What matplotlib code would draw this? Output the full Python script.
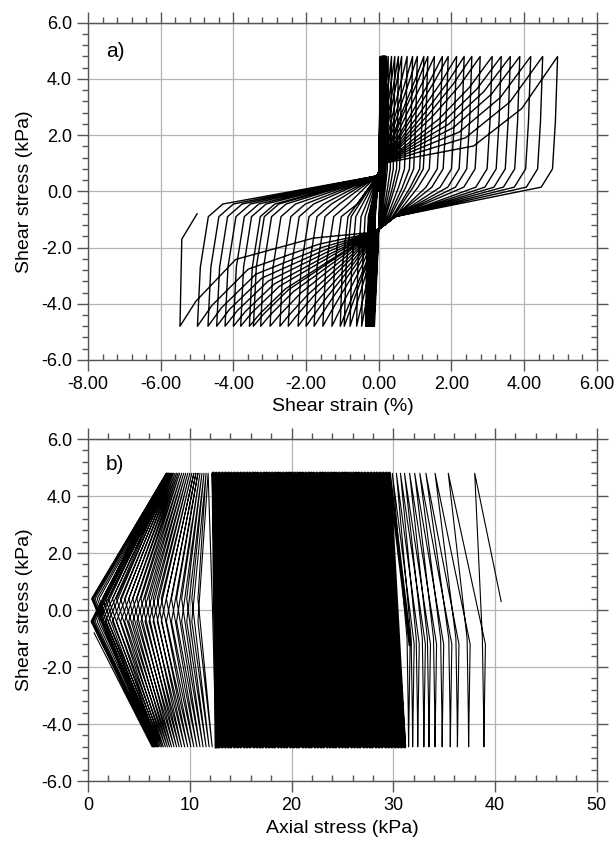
import matplotlib
matplotlib.use('Agg')
import matplotlib.pyplot as plt
from matplotlib.ticker import MultipleLocator, FormatStrFormatter

plt.rcParams['font.family'] = ['Liberation Sans', 'DejaVu Sans']

TAU = 4.8  # cyclic shear stress amplitude (kPa)

# --- panel a: shear strain (%) at the stress peaks ---
# small-strain cycles (the dense black band near zero)
band_pos = [0.04, 0.07, 0.05, 0.08, 0.06, 0.09, 0.08, 0.11, 0.09, 0.12,
            0.10, 0.13, 0.11, 0.10, 0.12, 0.14, 0.11, 0.13, 0.15, 0.13,
            0.12, 0.15, 0.16, 0.13, 0.14, 0.17, 0.15, 0.14, 0.17, 0.18,
            0.15, 0.16, 0.19, 0.17, 0.16, 0.19, 0.20, 0.18, 0.21, 0.20]
band_neg = [-0.12, -0.16, -0.14, -0.18, -0.15, -0.19, -0.17, -0.20, -0.18, -0.21,
            -0.19, -0.22, -0.20, -0.19, -0.23, -0.21, -0.20, -0.24, -0.22, -0.21,
            -0.25, -0.23, -0.22, -0.26, -0.24, -0.23, -0.27, -0.25, -0.28, -0.26,
            -0.29, -0.27, -0.30, -0.28, -0.31, -0.29, -0.32, -0.30, -0.33, -0.34]
# growing loops
loop_pos = [0.26, 0.35, 0.44, 0.54, 0.63, 0.78, 0.93, 1.06, 1.24, 1.35, 1.53, 1.75,
            1.91, 2.14, 2.35, 2.56, 2.79, 3.12, 3.37, 3.62, 3.88, 4.18, 4.51, 4.92]
loop_neg = [-0.36, -0.47, -0.61, -0.79, -0.95, -1.06, -1.29, -1.54, -1.78, -2.00, -2.22, -2.49,
            -2.72, -2.99, -3.25, -3.45, -3.56, -3.80, -4.00, -4.23, -4.46, -4.70, -4.99, -5.47]
end_a = (-5.0, -0.8)

# --- panel b: axial stress (kPa) at the shear stress peaks ---
start_b = (40.6, 0.3)
early_top = [38.0, 35.4, 34.1, 33.2, 32.6, 32.1, 31.6, 31.1, 30.7, 30.3, 29.9]
early_bot = [38.9, 37.4, 36.3, 35.6, 34.8, 34.1, 33.5, 33.0, 32.4, 31.9, 31.5]
dense_top = [29.6, 29.3, 29.0, 28.7, 28.4, 28.1, 27.8, 27.5, 27.2, 26.9, 26.6, 26.35,
             26.1, 25.8, 25.5, 25.25, 25.0, 24.7, 24.4, 24.15, 23.9, 23.6, 23.3, 23.05,
             22.8, 22.5, 22.2, 21.95, 21.7, 21.4, 21.1, 20.85, 20.6, 20.3, 20.0, 19.75,
             19.5, 19.2, 18.9, 18.65, 18.4, 18.1, 17.8, 17.55, 17.3, 17.0, 16.7, 16.45,
             16.2, 15.9, 15.6, 15.3, 15.0, 14.7, 14.4, 14.1, 13.8, 13.5, 13.2, 12.9, 12.6, 12.3]
dense_bot = [31.1, 30.8, 30.5, 30.2, 29.85, 29.55, 29.25, 28.9, 28.6, 28.3, 27.95, 27.7,
             27.4, 27.1, 26.75, 26.5, 26.2, 25.9, 25.55, 25.3, 25.0, 24.7, 24.35, 24.1,
             23.8, 23.5, 23.15, 22.9, 22.6, 22.3, 21.95, 21.7, 21.4, 21.1, 20.75, 20.5,
             20.2, 19.9, 19.55, 19.3, 19.0, 18.7, 18.35, 18.1, 17.8, 17.5, 17.15, 16.9,
             16.6, 16.3, 15.95, 15.65, 15.35, 15.0, 14.7, 14.4, 14.05, 13.8, 13.5, 13.2, 12.9, 12.6]
bf_top = [11.8, 11.6, 11.4, 11.2, 11.0, 10.8, 10.6, 10.4, 10.2, 10.0, 9.8, 9.6, 9.4, 9.2, 9.0,
          8.85, 8.7, 8.55, 8.4, 8.3, 8.2, 8.1, 8.0, 7.95, 7.9, 7.85, 7.8, 7.75, 7.7, 7.7]
bf_bot = [12.2, 11.9, 11.6, 11.3, 11.0, 10.7, 10.4, 10.1, 9.8, 9.5, 9.2, 8.95, 8.7, 8.45, 8.2,
          8.0, 7.8, 7.6, 7.4, 7.25, 7.1, 6.95, 6.85, 6.75, 6.65, 6.55, 6.5, 6.45, 6.4, 6.3]
bf_min = [10.8, 10.2, 9.7, 9.2, 8.7, 8.2, 7.7, 7.2, 6.8, 6.4, 6.0, 5.6, 5.2, 4.8, 4.4,
          4.0, 3.6, 3.2, 2.8, 2.4, 2.0, 1.7, 1.4, 1.1, 0.9, 0.7, 0.55, 0.45, 0.35, 0.3]


def up_half(n, p):
    # negative peak -> positive peak
    kn = min(1.0, -n / 1.5)
    kp = min(1.0, p / 1.5)
    w = min(1.0, p / 5.0) ** 3
    pts = [(n, -TAU), (n + 0.08 * kn, -2.7), (n + 0.3 * kn, -0.9)]
    if n < -1.2:
        pts.append((n + 0.7, -0.45))
    pts += [(-0.05 * kn, 0.55), (0.12 * kp, 1.0)]
    for u, vl, vc in [(0.53, 2.9, 1.55), (0.8, 3.96, 2.9)]:
        pts.append((u * p, vl + w * (vc - vl)))
    pts.append((p, TAU))
    return pts


def down_half(p, n):
    # positive peak -> negative peak
    kp = min(1.0, p / 1.5)
    kn = min(1.0, -n / 1.5)
    w = min(1.0, -n / 5.5) ** 3
    pts = [(p, TAU), (p - 0.06 * kp, 2.5), (p - 0.14 * kp, 0.8), (p - 0.45 * kp, 0.15),
           (0.45 * kp, -0.9), (-0.1 * kn, -1.45)]
    for u, vl, vc in [(0.33, -2.56, -1.65), (0.72, -3.86, -2.4), (0.92, -4.53, -3.9)]:
        pts.append((u * n, vl + w * (vc - vl)))
    pts.append((n, -TAU))
    return pts


def path_a():
    peaks = []
    for p, n in zip(band_pos, band_neg):
        peaks += [p, n]
    for p, n in zip(loop_pos, loop_neg):
        peaks += [p, n]
    pts = [(0.0, 0.0), (peaks[0], TAU)]
    for a, b in zip(peaks[:-1], peaks[1:]):
        seg = down_half(a, b) if a > 0 else up_half(a, b)
        pts += seg[1:]
    pts += [(peaks[-1] + 0.05, -1.7), end_a]
    return pts


def path_b():
    # early cycles: curved branches
    pts = [start_b]
    for t, b in zip(early_top, early_bot):
        pts += [(t, TAU), (b - 0.15, -1.0), (b - 0.03, -3.6), (b, -TAU),
                (b + 0.05, -3.5), (b + 0.15, -1.2)]
    # dense middle part: near straight branches
    dense = [pts[-1]]
    for t, b in zip(dense_top, dense_bot):
        dense += [(t, TAU), (b, -TAU)]
    # butterfly loops at low axial stress
    tail = [dense[-1]]
    for i, (t, m, b) in enumerate(zip(bf_top, bf_min, bf_bot)):
        m_prev = bf_min[i - 1] if i > 0 else b
        tail += [(m_prev, 0.4), (t, TAU), (m, -0.4), (b, -TAU)]
    tail += [(bf_min[-1] + 0.3, -0.8)]
    return pts, dense, tail


def style_axes(ax, xmaj, xmin, xfmt):
    ax.xaxis.set_major_locator(MultipleLocator(xmaj))
    ax.xaxis.set_minor_locator(MultipleLocator(xmin))
    ax.yaxis.set_major_locator(MultipleLocator(2))
    ax.yaxis.set_minor_locator(MultipleLocator(0.4))
    ax.xaxis.set_major_formatter(FormatStrFormatter(xfmt))
    ax.yaxis.set_major_formatter(FormatStrFormatter('%.1f'))
    ax.grid(True, which='major', color='#b4b4b4', linewidth=0.9)
    ax.set_axisbelow(True)
    for s in ax.spines.values():
        s.set_color('#555555')
        s.set_linewidth(1.0)
    ax.tick_params(which='both', colors='#555555', labelcolor='black', labelsize=13,
                   top=False, right=False)
    ax.tick_params(which='major', direction='out', length=8, width=1)
    ax.tick_params(axis='x', which='minor', direction='in', length=4, width=1)
    ax.tick_params(axis='y', which='minor', direction='out', length=4, width=1)
    sx = ax.secondary_xaxis('top')
    sx.xaxis.set_major_locator(MultipleLocator(xmaj))
    sx.xaxis.set_minor_locator(MultipleLocator(xmin))
    sx.tick_params(which='major', direction='out', length=8, width=1, colors='#555555', labeltop=False)
    sx.tick_params(which='minor', direction='out', length=4, width=1, colors='#555555')
    sx.spines['top'].set_color('#555555')
    sy = ax.secondary_yaxis('right')
    sy.yaxis.set_major_locator(MultipleLocator(2))
    sy.yaxis.set_minor_locator(MultipleLocator(0.4))
    sy.tick_params(which='major', direction='out', length=8, width=1, colors='#555555', labelright=False)
    sy.tick_params(which='minor', direction='in', length=4, width=1, colors='#555555')
    sy.spines['right'].set_color('#555555')


fig = plt.figure(figsize=(6.16, 8.43), dpi=100)
ax1 = fig.add_axes([0.1429, 0.573, 0.826, 0.400])
ax2 = fig.add_axes([0.1429, 0.0735, 0.826, 0.4057])

# a) shear stress vs shear strain
pa = path_a()
ax1.plot([q[0] for q in pa], [q[1] for q in pa], color='black', linewidth=1.0)
ax1.set_xlim(-8, 6)
ax1.set_ylim(-6, 6)
style_axes(ax1, 2, 0.4, '%.2f')
ax1.set_xlabel('Shear strain (%)', fontsize=14, labelpad=4)
ax1.set_ylabel('Shear stress (kPa)', fontsize=14, labelpad=6)
ax1.text(0.035, 0.915, 'a)', transform=ax1.transAxes, fontsize=15, va='center')

# b) shear stress vs axial stress
early, dense, tail = path_b()
for seg, lw in [(early, 0.8), (dense, 2.4), (tail, 0.8)]:
    ax2.plot([q[0] for q in seg], [q[1] for q in seg], color='black', linewidth=lw)
ax2.set_xlim(0, 50)
ax2.set_ylim(-6, 6)
style_axes(ax2, 10, 2, '%d')
ax2.set_xlabel('Axial stress (kPa)', fontsize=14, labelpad=4)
ax2.set_ylabel('Shear stress (kPa)', fontsize=14, labelpad=6)
ax2.text(0.035, 0.925, 'b)', transform=ax2.transAxes, fontsize=15, va='center')

fig.savefig('out.png', dpi=100)
